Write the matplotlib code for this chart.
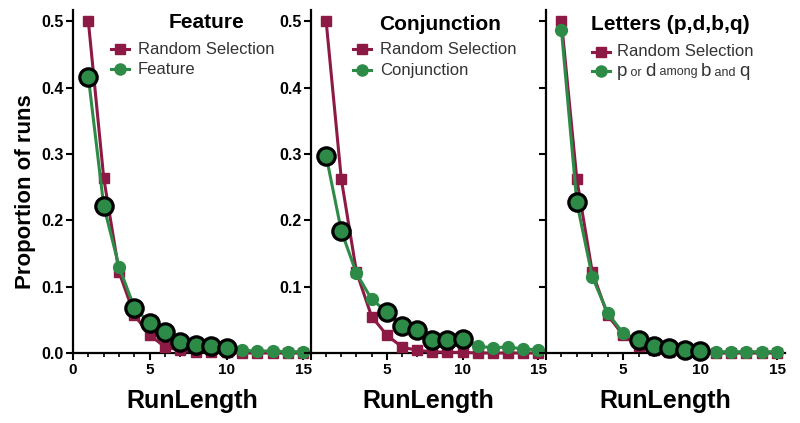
import matplotlib
matplotlib.use("Agg")
import matplotlib.pyplot as plt
import numpy as np
from matplotlib.offsetbox import AnchoredOffsetbox, HPacker, TextArea

plt.rcParams['font.family'] = ['Liberation Sans', 'DejaVu Sans']

MAROON = '#8c1a45'
GREEN = '#2e8b47'

run_length = np.arange(1, 16)

feature_random = [0.500, 0.264, 0.122, 0.057, 0.027, 0.009, 0.004, 0.002, 0.001, 0.001, 0.0, 0.0, 0.0, 0.0, 0.0]
feature_obs = [0.416, 0.222, 0.130, 0.068, 0.045, 0.031, 0.017, 0.012, 0.011, 0.008, 0.004, 0.003, 0.003, 0.002, 0.002]
feature_sig = [1, 2, 4, 5, 6, 7, 8, 9, 10]

conj_random = [0.500, 0.262, 0.122, 0.055, 0.027, 0.009, 0.004, 0.002, 0.001, 0.001, 0.0, 0.0, 0.0, 0.0, 0.0]
conj_obs = [0.297, 0.184, 0.120, 0.081, 0.062, 0.041, 0.035, 0.020, 0.019, 0.021, 0.010, 0.008, 0.009, 0.006, 0.005]
conj_sig = [1, 2, 5, 6, 7, 8, 9, 10]

letters_random = [0.500, 0.262, 0.122, 0.057, 0.027, 0.010, 0.004, 0.002, 0.001, 0.001, 0.0, 0.0, 0.0, 0.0, 0.0]
letters_obs = [0.487, 0.227, 0.115, 0.060, 0.030, 0.020, 0.011, 0.008, 0.005, 0.003, 0.002, 0.002, 0.002, 0.002, 0.002]
letters_sig = [2, 6, 7, 8, 9, 10]

titles = ['Feature', 'Conjunction', 'Letters (p,d,b,q)']
obs_names = ['Feature', 'Conjunction', None]

W, H = 800, 423
# axes boxes in pixels: left, width
boxes = [(73, 238), (311, 235), (546, 239)]
y0_px, top_px = 353, 10


def setup_axis(ax, xlabels, ylabels):
    ax.set_xlim(0, 15.5)
    ax.set_ylim(0, 0.517)
    ax.patch.set_alpha(0)
    for s in ['top', 'right']:
        ax.spines[s].set_visible(False)
    for s in ['left', 'bottom']:
        ax.spines[s].set_linewidth(1.6)
    ax.set_xticks([0, 5, 10, 15])
    ax.set_xticks(range(16), minor=True)
    ax.set_xticklabels(xlabels, fontsize=11, fontweight='bold')
    ax.set_yticks(np.arange(0, 0.51, 0.1))
    ax.set_yticklabels(ylabels, fontsize=11.5, fontweight='bold')
    ax.tick_params(which='major', direction='out', length=5, width=1.5, pad=2)
    ax.tick_params(which='minor', direction='out', length=3, width=1.2)
    ax.set_xlabel('RunLength', fontsize=18, fontweight='bold', labelpad=9)


def plot_panel(ax, rnd, obs, sig):
    ax.plot(run_length, rnd, color=MAROON, lw=2.2, marker='s', ms=7.5,
            clip_on=False, zorder=3)
    ax.plot(run_length, obs, color=GREEN, lw=2.2, marker='o', ms=8.5,
            clip_on=False, zorder=4)
    idx = [list(run_length).index(k) for k in sig]
    ax.plot(run_length[idx], np.array(obs)[idx], ls='none', marker='o', ms=12.5,
            mfc=GREEN, mec='black', mew=2.3, clip_on=False, zorder=5)


def legend_key(ax, xc, yc, color, marker):
    # short line plus marker, in axes fractions
    ax.plot([xc - 9 / 240, xc + 9 / 240], [yc, yc], color=color, lw=2.2,
            transform=ax.transAxes, clip_on=False)
    ax.plot([xc], [yc], color=color, marker=marker, ms=8 if marker == 'o' else 7,
            transform=ax.transAxes, clip_on=False)


fig = plt.figure(figsize=(8, 4.23), dpi=100)
axes = []
for left, width in boxes:
    ax = fig.add_axes([left / W, 1 - y0_px / H, width / W, (y0_px - top_px) / H])
    axes.append(ax)

ylab = ['%.1f' % v for v in np.arange(0, 0.51, 0.1)]
setup_axis(axes[0], ['0', '5', '10', '15'], ylab)
setup_axis(axes[1], ['', '5', '10', '15'], [''] + ylab[1:])
setup_axis(axes[2], ['', '5', '10', '15'], [''] * 6)
axes[0].set_ylabel('Proportion of runs', fontsize=16, fontweight='bold')
axes[0].yaxis.set_label_coords((36 - 73) / 238, (y0_px - 192) / (y0_px - top_px))

plot_panel(axes[0], feature_random, feature_obs, feature_sig)
plot_panel(axes[1], conj_random, conj_obs, conj_sig)
plot_panel(axes[2], letters_random, letters_obs, letters_sig)

# titles (pixel centres)
title_pos = [(206, 23), (440, 25), (670, 25)]
for ax, (left, width), t, (tx, ty) in zip(axes, boxes, titles, title_pos):
    ax.text((tx - left) / width, (y0_px - ty) / (y0_px - top_px), t,
            transform=ax.transAxes, ha='center', va='center',
            fontsize=15, fontweight='bold')

# legends: key centre x, text start x, row y (pixels)
leg_pos = [(120, 138, 49, 69), (362, 380, 49, 70), (601, 617, 52, 71)]
for i, (ax, (left, width)) in enumerate(zip(axes, boxes)):
    kx, tx, r1, r2 = leg_pos[i]
    fy = lambda py: (y0_px - py) / (y0_px - top_px)
    fx = lambda px: (px - left) / width
    legend_key(ax, fx(kx), fy(r1), MAROON, 's')
    legend_key(ax, fx(kx), fy(r2), GREEN, 'o')
    ax.text(fx(tx), fy(r1), 'Random Selection', transform=ax.transAxes,
            ha='left', va='center', fontsize=12, color='#333333')
    if obs_names[i]:
        ax.text(fx(tx), fy(r2), obs_names[i], transform=ax.transAxes,
                ha='left', va='center', fontsize=12, color='#333333')
    else:
        pieces = [('p', 13.5), (' or ', 9), ('d', 13.5), (' among ', 9),
                  ('b', 13.5), (' and ', 9), ('q', 13.5)]
        areas = [TextArea(s, textprops=dict(fontsize=sz, color='#333333'))
                 for s, sz in pieces]
        row = HPacker(children=areas, align='baseline', pad=0, sep=0)
        box = AnchoredOffsetbox(loc='center left', child=row, pad=0, borderpad=0,
                                frameon=False, bbox_to_anchor=(fx(tx), fy(r2)),
                                bbox_transform=ax.transAxes)
        ax.add_artist(box)

fig.savefig('out.png', dpi=100)
